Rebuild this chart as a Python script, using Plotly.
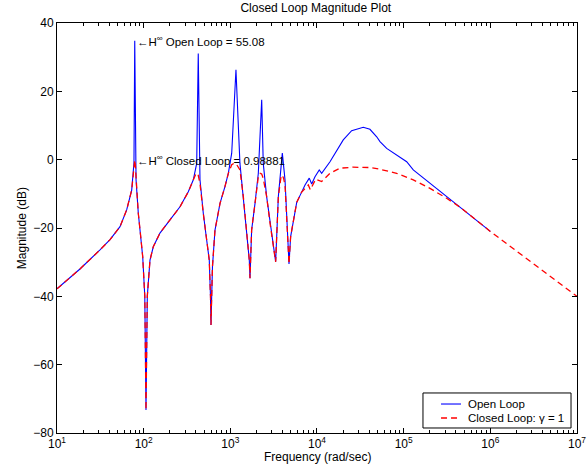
import plotly.graph_objects as go

# ---- data (frequency exponent = log10(rad/sec), magnitude in dB) ----
open_exp = [1.000, 1.265, 1.496, 1.612, 1.727, 1.804, 1.862, 1.888, 1.897, 1.912, 1.938, 1.966,
            1.989, 2.013, 2.027, 2.042, 2.073, 2.111, 2.188, 2.304, 2.419, 2.515, 2.573, 2.612,
            2.630, 2.650, 2.688, 2.727, 2.757, 2.771, 2.777, 2.785, 2.794, 2.823, 2.881, 2.938,
            2.977, 3.016, 3.065, 3.111, 3.150, 3.189, 3.219, 3.227, 3.246, 3.285, 3.323, 3.362,
            3.380, 3.419, 3.458, 3.496, 3.523, 3.554, 3.585, 3.600, 3.631, 3.646, 3.669, 3.677,
            3.696, 3.735, 3.766, 3.823, 3.862, 3.911, 3.939, 3.977, 4.026, 4.054, 4.150, 4.303,
            4.400, 4.534, 4.611, 4.689, 4.727, 4.804, 4.919, 5.035, 5.111, 5.304, 5.496, 5.650,
            5.823, 6.000]
open_db = [-37.8, -32.0, -26.4, -23.4, -19.6, -14.7, -8.9, -1.0, 34.8, -5.9, -15.7, -22.5,
           -28.4, -40.0, -73.3, -40.0, -29.4, -25.5, -21.5, -17.6, -13.8, -9.4, -5.9, -1.1,
           31.1, -5.9, -15.7, -23.5, -29.4, -40.0, -48.4, -40.0, -31.3, -20.6, -12.8, -7.9,
           -4.0, 1.9, 26.3, -1.1, -10.8, -20.6, -29.4, -34.7, -20.6, -12.8, -4.0, 17.5,
           -1.1, -10.8, -18.6, -24.5, -29.9, -10.8, -1.1, 1.9, -5.9, -15.7, -28.4, -30.5,
           -22.5, -16.7, -12.5, -9.5, -7.4, -5.4, -7.1, -5.0, -3.0, -4.0, -0.6, 5.8,
           8.5, 9.5, 8.9, 6.7, 5.3, 3.3, 1.4, -0.6, -3.0, -6.9, -10.8, -13.9,
           -17.3, -21.0]

closed_exp = [1.000, 1.265, 1.496, 1.612, 1.727, 1.804, 1.862, 1.888, 1.897, 1.905, 1.912, 1.938,
              1.966, 1.989, 2.013, 2.027, 2.042, 2.073, 2.111, 2.188, 2.304, 2.419, 2.515, 2.573,
              2.600, 2.625, 2.650, 2.688, 2.727, 2.757, 2.771, 2.777, 2.785, 2.794, 2.823, 2.881,
              2.938, 2.977, 3.016, 3.045, 3.075, 3.111, 3.150, 3.189, 3.219, 3.227, 3.246, 3.285,
              3.323, 3.345, 3.362, 3.380, 3.419, 3.458, 3.496, 3.523, 3.554, 3.585, 3.600, 3.615,
              3.631, 3.646, 3.669, 3.677, 3.696, 3.735, 3.766, 3.823, 3.862, 3.900, 3.923, 3.985,
              4.054, 4.150, 4.265, 4.415, 4.611, 4.727, 4.919, 5.111, 5.304, 5.496, 5.650, 6.000,
              6.500, 7.000]
closed_db = [-37.8, -32.0, -26.4, -23.4, -19.6, -14.7, -8.9, -1.5, -0.1, -2.0, -5.9, -15.7,
             -22.5, -28.4, -40.0, -73.3, -40.0, -29.4, -25.5, -21.5, -17.6, -13.8, -9.4, -6.0,
             -4.3, -4.0, -7.0, -15.7, -23.5, -29.4, -40.0, -48.4, -40.0, -31.3, -20.6, -12.8,
             -7.9, -4.0, -1.5, -1.0, -1.5, -3.0, -10.8, -20.6, -29.4, -34.7, -20.6, -12.8,
             -5.0, -4.0, -4.2, -5.5, -10.8, -18.6, -24.5, -29.9, -10.8, -5.0, -4.5, -5.5,
             -7.5, -15.7, -28.4, -30.5, -22.5, -16.7, -12.5, -9.5, -8.5, -7.4, -8.8, -5.7,
             -6.4, -4.0, -2.5, -2.2, -2.3, -2.8, -4.0, -5.9, -8.4, -11.3, -13.9, -21.0,
             -30.5, -40.0]

open_freq = [10 ** e for e in open_exp]
closed_freq = [10 ** e for e in closed_exp]

hinf_open = 55.08
hinf_closed = 0.98881
peak_exp = 1.897

x_tick_exps = [1, 2, 3, 4, 5, 6, 7]
series_names = ["Open Loop", "Closed Loop: \u03b3 = 1"]
series_colors = ["#0000FF", "#FF0000"]

FONT = "Liberation Sans, Arial, Helvetica, sans-serif"

fig = go.Figure()
fig.add_trace(go.Scatter(x=open_freq, y=open_db, mode="lines", name=series_names[0],
                         line=dict(color=series_colors[0], width=1.1)))
fig.add_trace(go.Scatter(x=closed_freq, y=closed_db, mode="lines", name=series_names[1],
                         line=dict(color=series_colors[1], width=1.3, dash="6px,4px")))

fig.add_annotation(x=peak_exp, y=34.8, xref="x", yref="y", showarrow=False,
                   xanchor="left", yanchor="middle",
                   text="\u2190H<sup>\u221e</sup> Open Loop = %.2f" % hinf_open,
                   font=dict(family=FONT, size=11.5, color="black"))
fig.add_annotation(x=peak_exp, y=-0.1, xref="x", yref="y", showarrow=False,
                   xanchor="left", yanchor="middle",
                   text="\u2190H<sup>\u221e</sup> Closed Loop = %.5f" % hinf_closed,
                   font=dict(family=FONT, size=11.5, color="black"))

# axis titles
fig.add_annotation(x=0.5, y=-0.058, xref="paper", yref="paper", showarrow=False,
                   xanchor="center", yanchor="middle", text="Frequency (rad/sec)",
                   font=dict(family=FONT, size=12, color="black"))
fig.add_annotation(x=-0.067, y=0.5, xref="paper", yref="paper", showarrow=False,
                   xanchor="center", yanchor="middle", text="Magnitude (dB)", textangle=-90,
                   font=dict(family=FONT, size=12, color="black"))

# legend box (MATLAB style, drawn in paper coordinates)
fig.add_shape(type="rect", xref="paper", yref="paper", x0=0.7038, x1=0.9885, y0=0.0122, y1=0.0976,
              line=dict(color="black", width=1), fillcolor="white", layer="above")
fig.add_shape(type="line", xref="paper", yref="paper", x0=0.7385, x1=0.7769, y0=0.0707, y1=0.0707,
              line=dict(color=series_colors[0], width=1.1), layer="above")
fig.add_shape(type="line", xref="paper", yref="paper", x0=0.7385, x1=0.7769, y0=0.0366, y1=0.0366,
              line=dict(color=series_colors[1], width=1.3, dash="6px,4px"), layer="above")
fig.add_annotation(x=0.7865, y=0.0707, xref="paper", yref="paper", showarrow=False,
                   xanchor="left", yanchor="middle", text=series_names[0],
                   font=dict(family=FONT, size=11.5, color="black"))
fig.add_annotation(x=0.7865, y=0.0366, xref="paper", yref="paper", showarrow=False,
                   xanchor="left", yanchor="middle", text=series_names[1],
                   font=dict(family=FONT, size=11.5, color="black"))

fig.update_layout(
    width=587, height=467,
    margin=dict(l=57, r=10, t=23, b=34, autoexpand=False),
    paper_bgcolor="white", plot_bgcolor="white",
    font=dict(family=FONT, size=12, color="black"),
    title=dict(text="Closed Loop Magnitude Plot", x=0.538, xanchor="center", xref="container",
               y=0.983, yanchor="middle", font=dict(family=FONT, size=12)),
    showlegend=False,
    xaxis=dict(type="log", range=[1, 7.0003], tickmode="array",
               tickvals=[10 ** e for e in x_tick_exps],
               ticktext=["10<sup>%d</sup>" % e for e in x_tick_exps], automargin=False,
               showline=True, linecolor="black", linewidth=1, mirror="allticks",
               ticks="inside", ticklen=5, tickcolor="black", showgrid=False, zeroline=False,
               minor=dict(ticks="inside", ticklen=3, tickcolor="black", showgrid=False,
                          dtick="D1"),
               tickfont=dict(size=12)),
    yaxis=dict(range=[-80, 40], dtick=20, automargin=False,
               showline=True, linecolor="black", linewidth=1, mirror="allticks",
               ticks="inside", ticklen=5, tickcolor="black", showgrid=False, zeroline=False,
               tickfont=dict(size=12)),
)

fig.write_html("out.html", config={"displayModeBar": False},
               post_script="document.body.style.margin='0';document.body.style.padding='0';")
